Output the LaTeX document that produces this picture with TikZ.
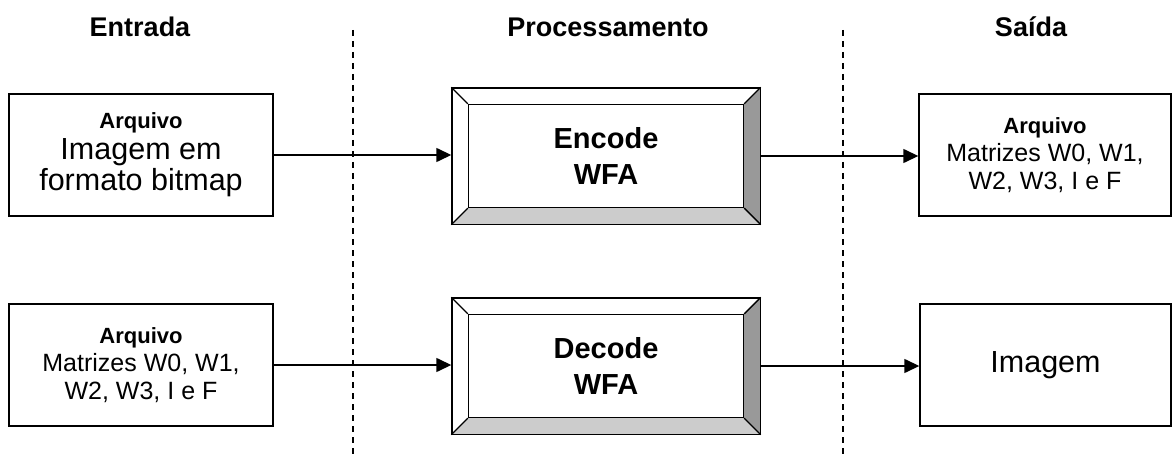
\documentclass[tikz,border=0pt]{standalone}
\usepackage{fontspec}
\setmainfont{Liberation Sans}
\usetikzlibrary{arrows.meta}
\definecolor{chanfroescuro}{gray}{0.6}
\definecolor{chanfroclaro}{gray}{0.8}

\begin{document}
\begin{tikzpicture}[x=1pt,y=-1pt]

  % Estilos
  \tikzstyle{titulo} = [font=\bfseries\fontsize{27}{30}\selectfont]
  \tikzstyle{caixa} = [draw, line width=1.4pt, fill=white, inner sep=0pt, align=center, minimum width=264pt, minimum height=122pt, font=\fontsize{30.5}{31}\selectfont]
  \tikzstyle{caixapeq} = [caixa, font=\fontsize{25}{28}\selectfont]
  \tikzstyle{externo} = [draw, line width=1.4pt, fill=white, minimum width=308pt, minimum height=136pt]
  \tikzstyle{interno} = [draw, line width=1.4pt, inner sep=0pt, align=center, minimum width=275pt, minimum height=103pt, font=\bfseries\fontsize{29}{36}\selectfont]
  \tikzstyle{chanfro} = [draw, line width=1.4pt, line join=round]
  \tikzstyle{seta} = [-{Triangle[length=15pt,width=14pt]}, line width=1.4pt]
  \tikzstyle{separa} = [dashed, dash pattern=on 6pt off 5pt, line width=1.2pt]

  \useasboundingbox (0,0) rectangle (1172,457);

  % Linhas tracejadas
  \draw[separa] (353,30) -- (353,457);
  \draw[separa] (843,30) -- (843,457);

  % Titulos
  \node[titulo] (entrada) at (140,27) {Entrada};
  \node[titulo] (proc) at (608,27) {Processamento};
  \node[titulo] (saida) at (1031,27) {Saída};

  % Caixas de entrada e saida
  \node[caixa] (arqimg) at (141,155) {{\bfseries\fontsize{22}{24}\selectfont Arquivo}\\Imagem em\\formato bitmap};
  \node[caixapeq, minimum width=252pt] (arqmat) at (1045,155) {{\bfseries\fontsize{22}{24}\selectfont Arquivo}\\Matrizes W0, W1,\\W2, W3, I e F};
  \node[caixapeq] (arqmat2) at (141,365) {{\bfseries\fontsize{22}{24}\selectfont Arquivo}\\Matrizes W0, W1,\\W2, W3, I e F};
  \node[caixa, minimum width=251pt] (img) at (1045.5,365) {Imagem};

  % Encode
  \node[externo] (enc) at (606,156) {};
  \fill[chanfroescuro] (enc.north east) -- (enc.south east) -- ++(-16.5,-16.5) -- ([shift={(-16.5,16.5)}]enc.north east) -- cycle;
  \fill[chanfroclaro] (enc.south west) -- (enc.south east) -- ++(-16.5,-16.5) -- ([shift={(16.5,-16.5)}]enc.south west) -- cycle;
  \node[interno] (encI) at (enc.center) {Encode\\WFA};
  \draw[chanfro] (enc.north west) -- (encI.north west);
  \draw[chanfro] (enc.north east) -- (encI.north east);
  \draw[chanfro] (enc.south west) -- (encI.south west);
  \draw[chanfro] (enc.south east) -- (encI.south east);
  \draw[chanfro] (enc.north west) rectangle (enc.south east);

  % Decode
  \node[externo] (dec) at (606,366) {};
  \fill[chanfroescuro] (dec.north east) -- (dec.south east) -- ++(-16.5,-16.5) -- ([shift={(-16.5,16.5)}]dec.north east) -- cycle;
  \fill[chanfroclaro] (dec.south west) -- (dec.south east) -- ++(-16.5,-16.5) -- ([shift={(16.5,-16.5)}]dec.south west) -- cycle;
  \node[interno] (decI) at (dec.center) {Decode\\WFA};
  \draw[chanfro] (dec.north west) -- (decI.north west);
  \draw[chanfro] (dec.north east) -- (decI.north east);
  \draw[chanfro] (dec.south west) -- (decI.south west);
  \draw[chanfro] (dec.south east) -- (decI.south east);
  \draw[chanfro] (dec.north west) rectangle (dec.south east);

  % Setas
  \draw[seta] (arqimg.east) -- (arqimg.east -| enc.west);
  \draw[seta] (enc.east) -- (enc.east -| arqmat.west);
  \draw[seta] (arqmat2.east) -- (arqmat2.east -| dec.west);
  \draw[seta] (dec.east) -- (dec.east -| img.west);

\end{tikzpicture}
\end{document}
